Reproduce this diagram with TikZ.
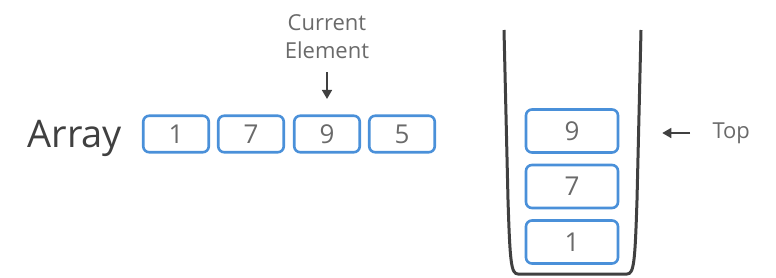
\documentclass[tikz,border=0pt]{standalone}
\usepackage{fontspec}
\setmainfont{Open Sans}
\usetikzlibrary{arrows.meta, positioning}

\definecolor{cellblue}{HTML}{4A90D9}
\definecolor{walldark}{HTML}{404040}
\definecolor{textgray}{HTML}{6A6A6A}

\begin{document}
\begin{tikzpicture}[x=1pt, y=-1pt,
  cell/.style={draw=cellblue, line width=2.6pt, rounded corners=6pt,
    minimum width=65.5pt, minimum height=36.5pt, inner sep=0pt,
    text=textgray, font=\fontsize{26}{26}\selectfont},
  slot/.style={cell, minimum width=92pt, minimum height=43pt},
  pointer/.style={-{Triangle[length=9pt,width=10pt]}, line width=1.6pt, draw=walldark},
  caption/.style={text=textgray, font=\fontsize{22}{28}\selectfont, align=center}]
\def\rowy{134}
\def\stackx{572}

\useasboundingbox (0,0) rectangle (776,277);

% array
\node[anchor=base west, text=walldark, font=\fontsize{38}{38}\selectfont] (arr) at (24,147) {Array};
\node[cell] (a1) at (176,\rowy) {1};
\node[cell] (a2) at (251,\rowy) {7};
\node[cell] (a3) at (327,\rowy) {9};
\node[cell] (a4) at (402,\rowy) {5};

\node[caption] (cur) at (327,37) {Current\\Element};
\coordinate (curtail) at (327,72);
\draw[pointer, shorten >=15.5pt] (curtail) -- (a3);

% stack
\draw[walldark, line width=3pt, line join=round]
  (504,30) -- (508,200) .. controls (510,262) and (511,274) .. (518,274)
  -- (627,274) .. controls (634,274) and (635,262) .. (637,200) -- (641,30);

\node[slot] (s1) at (\stackx,242) {1};
\node[slot] (s2) at (\stackx,186.5) {7};
\node[slot] (s3) at (\stackx,131) {9};

\node[caption, anchor=west] (top) at (709,133) {Top};
\coordinate (toptail) at (690,133);
\draw[pointer, shorten >=43pt] (toptail) -- (toptail -| s3.east);
\end{tikzpicture}
\end{document}
